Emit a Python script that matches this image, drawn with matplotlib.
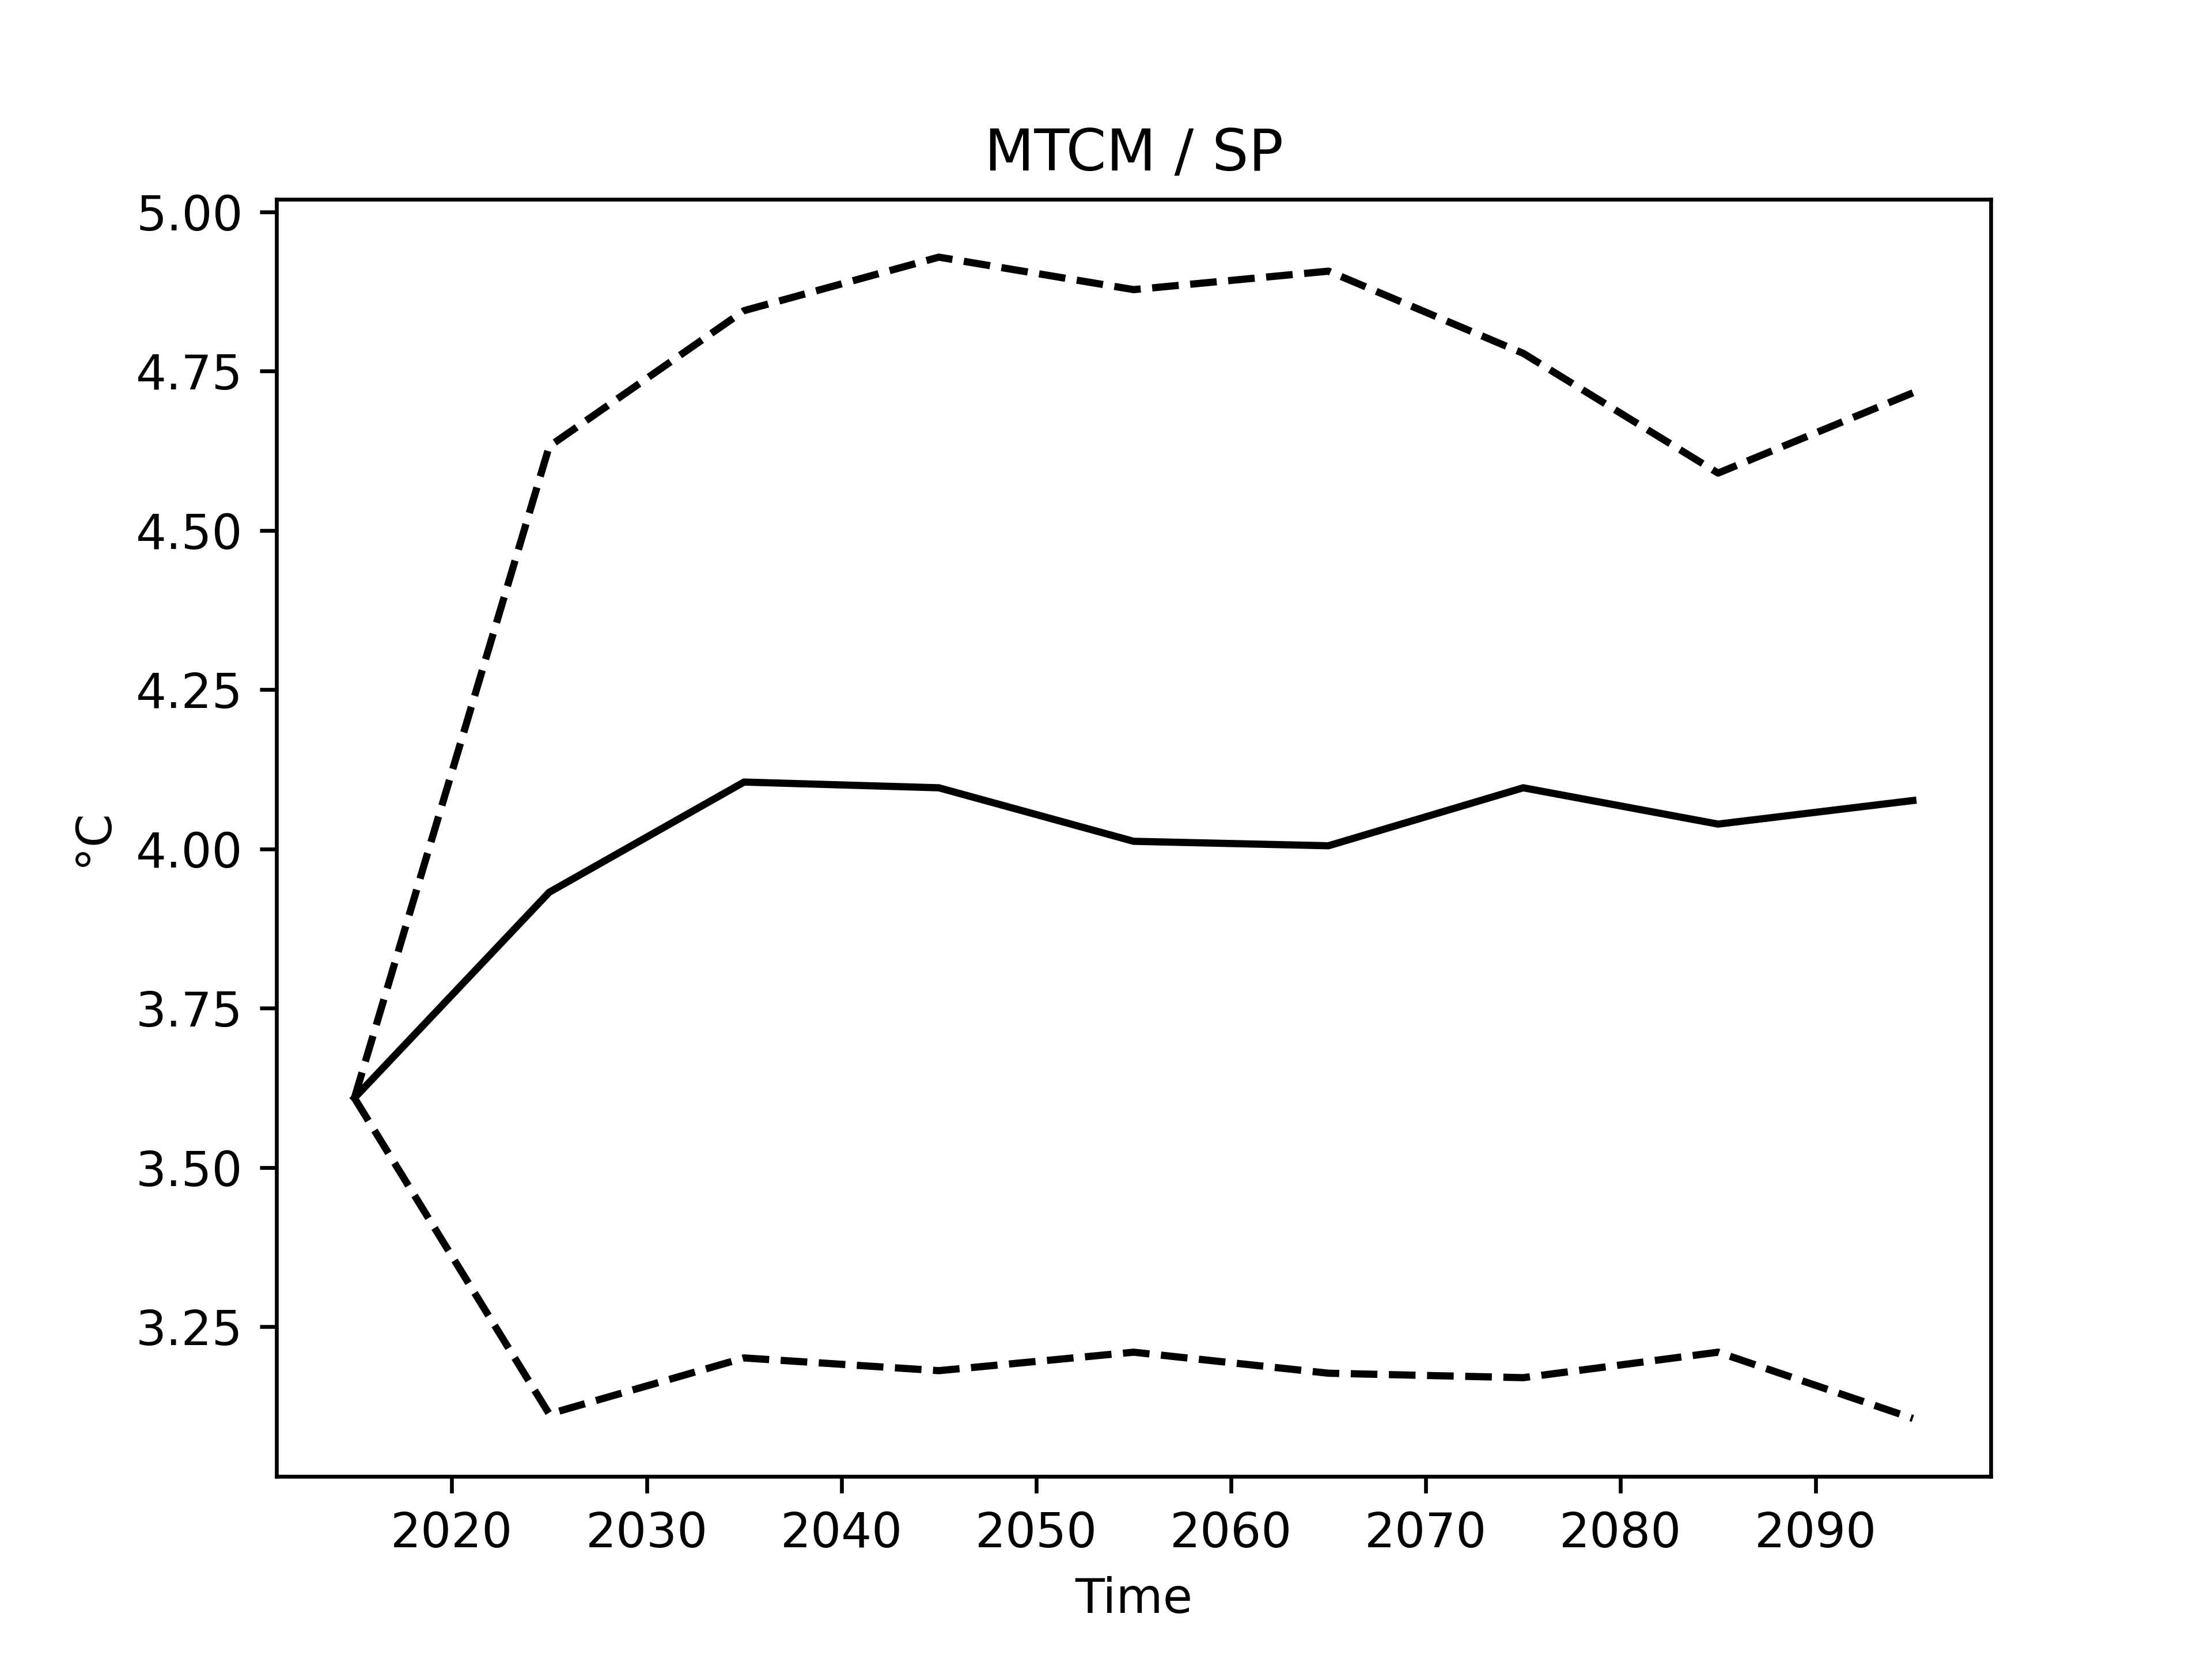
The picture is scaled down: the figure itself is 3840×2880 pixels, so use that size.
import matplotlib
matplotlib.use("Agg")
import matplotlib.pyplot as plt
import numpy as np

# Decades (mid-points) and temperature series
years = [2015, 2025, 2035, 2045, 2055, 2065, 2075, 2085, 2095]
mean_vals = [3.609, 3.932, 4.105, 4.096, 4.012, 4.005, 4.096, 4.039, 4.076]
upper_vals = [3.609, 4.632, 4.845, 4.929, 4.878, 4.907, 4.778, 4.590, 4.716]
lower_vals = [3.609, 3.113, 3.201, 3.181, 3.210, 3.177, 3.170, 3.210, 3.106]

fig, ax = plt.subplots(figsize=(6.4, 4.8))
ax.plot(years, mean_vals, 'k-')
ax.plot(years, upper_vals, 'k--')
ax.plot(years, lower_vals, 'k--')

ax.set_title("MTCM / SP")
ax.set_xlabel("Time")
ax.set_ylabel("°C")

fig.savefig("out.png", dpi=600)
